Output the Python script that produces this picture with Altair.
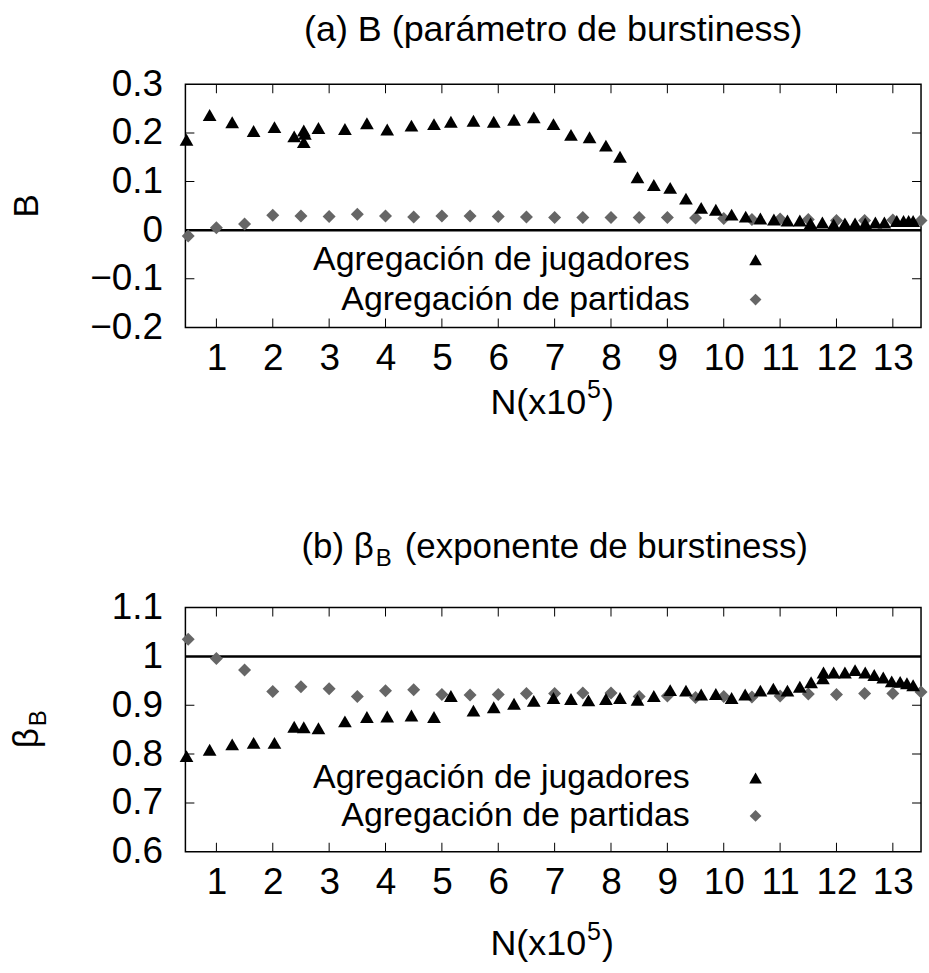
import altair as alt
import pandas as pd

# ---------------- data ----------------
# Panel (a): B (burstiness parameter)
xa_jug = [0.47, 0.88, 1.28, 1.66, 2.03, 2.38, 2.55, 2.57, 2.55, 2.81, 3.28, 3.67, 4.03, 4.46,
          4.86, 5.16, 5.56, 5.92, 6.28, 6.63, 6.98, 7.29, 7.62, 7.91, 8.16, 8.47, 8.76, 9.05,
          9.33, 9.60, 9.86, 10.14, 10.39, 10.65, 10.89, 11.13, 11.35, 11.54, 11.75, 11.95,
          12.15, 12.33, 12.51, 12.69, 12.85, 13.07, 13.19, 13.28, 13.36]
ya_jug = [0.186, 0.237, 0.222, 0.204, 0.212, 0.193, 0.205, 0.198, 0.181, 0.210, 0.208, 0.220,
          0.207, 0.215, 0.218, 0.223, 0.225, 0.223, 0.227, 0.232, 0.218, 0.196, 0.191, 0.174,
          0.151, 0.109, 0.093, 0.087, 0.065, 0.046, 0.042, 0.032, 0.028, 0.024, 0.022, 0.020,
          0.020, 0.014, 0.016, 0.012, 0.014, 0.014, 0.014, 0.016, 0.016, 0.019, 0.019, 0.019,
          0.019]
x_par = [0.5, 1.0, 1.5, 2.0, 2.5, 3.0, 3.5, 4.0, 4.5, 5.0, 5.5, 6.0, 6.5, 7.0, 7.5, 8.0, 8.5,
         9.0, 9.5, 10.0, 10.5, 11.0, 11.5, 12.0, 12.5, 13.0, 13.5]
ya_par = [-0.012, 0.005, 0.013, 0.031, 0.029, 0.028, 0.033, 0.029, 0.027, 0.029, 0.029, 0.028,
          0.027, 0.026, 0.026, 0.026, 0.026, 0.026, 0.025, 0.024, 0.022, 0.023, 0.022, 0.020,
          0.020, 0.021, 0.020]

# Panel (b): beta_B (burstiness exponent)
xb_jug = [0.47, 0.88, 1.28, 1.66, 2.03, 2.38, 2.55, 2.81, 3.28, 3.67, 4.03, 4.46, 4.86, 5.16,
          5.56, 5.92, 6.28, 6.63, 6.98, 7.29, 7.60, 7.91, 8.16, 8.47, 8.76, 9.05, 9.33, 9.60,
          9.86, 10.14, 10.38, 10.65, 10.88, 11.13, 11.35, 11.55, 11.76, 11.77, 11.95, 12.15,
          12.33, 12.51, 12.67, 12.83, 12.98, 13.13, 13.25, 13.36]
yb_jug = [0.796, 0.809, 0.820, 0.823, 0.823, 0.856, 0.855, 0.853, 0.867, 0.876, 0.877, 0.879,
          0.876, 0.919, 0.889, 0.896, 0.903, 0.909, 0.915, 0.913, 0.910, 0.913, 0.915, 0.911,
          0.919, 0.931, 0.930, 0.922, 0.923, 0.915, 0.922, 0.930, 0.934, 0.930, 0.938, 0.947,
          0.955, 0.967, 0.967, 0.967, 0.972, 0.967, 0.962, 0.957, 0.949, 0.948, 0.945, 0.941]
yb_par = [1.035, 0.996, 0.972, 0.928, 0.938, 0.934, 0.918, 0.930, 0.932, 0.922, 0.921, 0.922,
          0.924, 0.924, 0.925, 0.925, 0.918, 0.919, 0.916, 0.918, 0.917, 0.919, 0.923, 0.922,
          0.924, 0.924, 0.927]

x_ticks = [1, 2, 3, 4, 5, 6, 7, 8, 9, 10, 11, 12, 13]
ya_ticks = [-0.2, -0.1, 0.0, 0.1, 0.2, 0.3]
yb_ticks = [0.6, 0.7, 0.8, 0.9, 1.0, 1.1]
x_domain = [0.45, 13.5]
ya_domain = [-0.2, 0.3]
yb_domain = [0.6, 1.1]
ref_a = [0.0]
ref_b = [1.0]

legend_labels = ["Agregación de jugadores", "Agregación de partidas"]

# ---------------- style ----------------
FONT = "Liberation Sans"
FS_LEG = 34
FS_TICK = 37
FS_TITLE = 36
W = 738
GRAY = "#666666"
TRI_SIZE = 190
DIA_SIZE = 170


def txt(s, x, y, size=FS_TITLE, align="center", baseline="alphabetic", angle=0):
    kw = dict(font=FONT, fontSize=size, align=align, baseline=baseline, color="black")
    if angle:
        kw["angle"] = angle
    return alt.Chart(pd.DataFrame({"t": [s]})).mark_text(**kw).encode(
        text="t:N", x=alt.value(x), y=alt.value(y))


def panel(xj, yj, xp, yp, ydom, yticks, ref, H, leg_y, xt_base):
    xs = alt.Scale(domain=x_domain, nice=False, zero=False)
    ys = alt.Scale(domain=ydom, nice=False, zero=False)
    xaxis = alt.Axis(values=x_ticks, format="d", title=None, labelPadding=13)
    yaxis = alt.Axis(values=yticks, format=".1~f", title=None, labelPadding=23)
    X = alt.X("x:Q", scale=xs, axis=xaxis)
    Y = alt.Y("y:Q", scale=ys, axis=yaxis)

    jug = pd.DataFrame({"x": xj, "y": yj})
    par = pd.DataFrame({"x": xp, "y": yp})

    tri = alt.Chart(jug).mark_point(shape="triangle-up", filled=True, size=TRI_SIZE,
                                    color="black", opacity=1).encode(x=X, y=Y)
    dia = alt.Chart(par).mark_point(shape="diamond", filled=True, size=DIA_SIZE,
                                    color=GRAY, opacity=1).encode(x=X, y=Y)
    rule = alt.Chart(pd.DataFrame({"y": ref})).mark_rule(color="black", strokeWidth=2.5).encode(y=Y)

    inner = [v for v in yticks if v not in ydom]
    xt = pd.DataFrame({"x": x_ticks * 2,
                       "y": [ydom[0]] * len(x_ticks) + [ydom[1]] * len(x_ticks)})
    yt = pd.DataFrame({"x": [x_domain[0]] * len(inner) + [x_domain[1]] * len(inner),
                       "y": inner * 2})
    xtick = alt.Chart(xt).mark_tick(orient="vertical", size=18, thickness=1, clip=True,
                                    color="black", opacity=1).encode(x=X, y=Y)
    ytick = alt.Chart(yt).mark_tick(orient="horizontal", size=18, thickness=1, clip=True,
                                    color="black", opacity=1).encode(x=X, y=Y)

    leg1 = txt(legend_labels[0], 506, leg_y[0], size=FS_LEG, align="right", baseline="middle")
    leg2 = txt(legend_labels[1], 506, leg_y[1], size=FS_LEG, align="right", baseline="middle")
    sym1 = alt.Chart(pd.DataFrame({"t": [legend_labels[0]]})).mark_point(
        shape="triangle-up", filled=True, size=160, color="black", opacity=1
    ).encode(x=alt.value(572), y=alt.value(leg_y[0]))
    sym2 = alt.Chart(pd.DataFrame({"t": [legend_labels[1]]})).mark_point(
        shape="diamond", filled=True, size=140, color=GRAY, opacity=1
    ).encode(x=alt.value(572), y=alt.value(leg_y[1]))

    # x-axis title N(x10^5) with a raised exponent
    xt1 = txt("N(x10", 402, H + xt_base, align="right")
    xt2 = txt("5", 403, H + xt_base - 16, size=25, align="left")
    xt3 = txt(")", 418, H + xt_base, align="left")

    return [rule, xtick, ytick, dia, tri, leg1, leg2, sym1, sym2, xt1, xt2, xt3]


HA = 244
HB = 245

layers_a = panel(xa_jug, ya_jug, x_par, ya_par, ya_domain, ya_ticks, ref_a, HA, [176, 216], 87)
layers_a += [
    txt("(a) B (parámetro de burstiness)", W / 2, -43),
    txt("B", -159, HA / 2, size=35, baseline="middle", angle=270),
]
top = alt.layer(*layers_a).properties(width=W, height=HA)

layers_b = panel(xb_jug, yb_jug, x_par, yb_par, yb_domain, yb_ticks, ref_b, HB, [171, 209], 104)
layers_b += [
    txt("(b) β", 189, -50, size=35, align="right"),
    txt("B", 191, -42, size=24, align="left"),
    txt("(exponente de burstiness)", 220, -50, size=35, align="left"),
    txt("β", -159, 131, size=35, baseline="middle", angle=270),
    txt("B", -147, 111, size=24, baseline="middle", angle=270),
]
bottom = alt.layer(*layers_b).properties(width=W, height=HB)

chart = alt.vconcat(top, bottom, spacing=107).properties(
    padding={"left": 9, "top": 10, "right": 0, "bottom": 0}
).configure_view(
    stroke="black", strokeWidth=1.5
).configure_axis(
    labelFont=FONT, labelFontSize=FS_TICK, labelColor="black",
    ticks=False, tickSize=0, domain=False, grid=False
)

chart.save("out.html", embed_options={"renderer": "svg", "actions": False})
